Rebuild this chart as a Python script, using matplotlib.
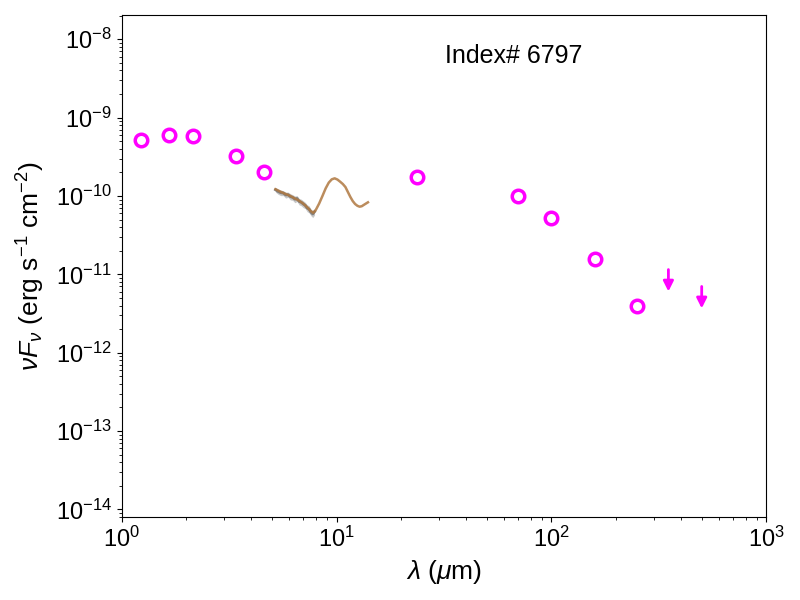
import numpy as np
import matplotlib
matplotlib.use("Agg")
import matplotlib.pyplot as plt

plt.rcParams['font.family'] = ['Liberation Sans', 'DejaVu Sans']
plt.rcParams['mathtext.fontset'] = 'custom'
plt.rcParams['mathtext.rm'] = 'Liberation Sans'
plt.rcParams['mathtext.it'] = 'Liberation Sans:italic'

# photometry
phot_wave = [1.235, 1.66, 2.16, 3.4, 4.6, 23.7, 70, 100, 160, 250]
phot_flux = [5.2e-10, 6.0e-10, 5.9e-10, 3.2e-10, 2.0e-10, 1.77e-10, 1.0e-10, 5.2e-11, 1.55e-11, 4.0e-12]
# upper limits
ul_wave = [350, 500]
ul_flux = [1.15e-11, 7.0e-12]

# IRS spectrum (sampled)
spec_wave = [5.2, 5.5, 5.8, 6.1, 6.4, 6.7, 7.0, 7.3, 7.6, 7.8, 8.0, 8.3, 8.6, 8.9, 9.2, 9.5, 9.8, 10.1, 10.4, 10.7, 11.0, 11.3, 11.6, 11.9, 12.2, 12.5, 12.8, 13.1, 13.4, 13.7, 14.0]
spec_flux = [1.22e-10, 1.13e-10, 1.06e-10, 1.0e-10, 9.3e-11, 8.7e-11, 8.0e-11, 7.2e-11, 6.4e-11, 6.1e-11, 6.6e-11, 8.0e-11, 1.0e-10, 1.25e-10, 1.48e-10, 1.63e-10, 1.68e-10, 1.62e-10, 1.52e-10, 1.42e-10, 1.3e-10, 1.12e-10, 9.7e-11, 8.6e-11, 7.9e-11, 7.5e-11, 7.3e-11, 7.4e-11, 7.7e-11, 8.0e-11, 8.3e-11]
# noisy short-wavelength segment (gray)
sl_wave = [5.2, 5.35, 5.5, 5.65, 5.8, 5.95, 6.1, 6.25, 6.4, 6.55, 6.7, 6.85, 7.0, 7.15, 7.3, 7.45, 7.6, 7.75, 7.9]
sl_flux = [1.2e-10, 1.14e-10, 1.1e-10, 1.09e-10, 1.03e-10, 1.04e-10, 9.8e-11, 9.6e-11, 9.1e-11, 9.3e-11, 8.5e-11, 8.3e-11, 7.9e-11, 7.6e-11, 7.0e-11, 6.8e-11, 6.2e-11, 5.9e-11, 6.3e-11]
sl_err = [8e-12, 9e-12, 9e-12, 8e-12, 9e-12, 8e-12, 9e-12, 8e-12, 9e-12, 8e-12, 8e-12, 8e-12, 8e-12, 7e-12, 7e-12, 7e-12, 6e-12, 6e-12, 6e-12]

fig = plt.figure(figsize=(8, 6), dpi=100)
ax = fig.add_axes([0.152, 0.138, 0.806, 0.837])

ax.fill_between(sl_wave, np.array(sl_flux) - np.array(sl_err), np.array(sl_flux) + np.array(sl_err),
                color='#b0b0b0', alpha=0.7, lw=0)
ax.plot(sl_wave, sl_flux, color='#808080', lw=2)
ax.plot(spec_wave, spec_flux, color='#b07840', lw=1.8, alpha=0.85)

ax.plot(phot_wave, phot_flux, 'o', mfc='none', mec='#ff00ff', mew=2.5, ms=9)

for w, f in zip(ul_wave, ul_flux):
    ax.annotate('', xy=(w, f / 10**0.28), xytext=(w, f),
                arrowprops=dict(arrowstyle='-|>,head_width=0.3,head_length=0.6', color='#ff00ff', lw=2,
                                shrinkA=0, shrinkB=0))

ax.set_xscale('log')
ax.set_yscale('log')
ax.set_xlim(1, 1000)
ax.set_ylim(10**-14.1, 10**-7.69)
ax.tick_params(labelsize=17)
ax.set_xlabel(r'$\lambda$ ($\mu$m)', fontsize=19)
ax.set_ylabel(r'$\nu F_\nu$ (erg s$^{-1}$ cm$^{-2}$)', fontsize=19, labelpad=6)
ax.text(0.502, 0.905, 'Index# 6797', transform=ax.transAxes, fontsize=18)

fig.savefig('out.png', dpi=100)
